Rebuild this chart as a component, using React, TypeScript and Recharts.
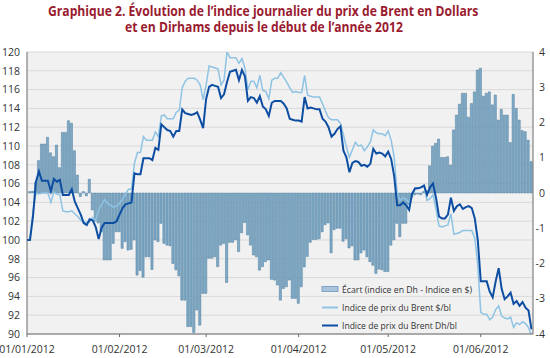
import React, { useLayoutEffect, useRef, useState } from 'react';
import { ComposedChart, Bar, Line, XAxis, YAxis, CartesianGrid } from 'recharts';

// one value per calendar day, day 0 = 01/01/2012
const brentDh = [
  100.0, 100.0, 102.5, 106.2, 107.3, 106.3, 106.3, 106.3, 105.2, 106.5,
  106.2, 106.4, 104.8, 104.8, 104.8, 105.4, 104.1, 103.4, 102.7, 101.8,
  101.6, 102.2, 102.1, 101.4, 100.1, 101.3, 101.8, 101.8, 101.8, 101.8,
  102.0, 102.7, 103.4, 103.8, 103.9, 104.0, 107.1, 107.0, 107.0, 108.7,
  108.7, 108.7, 108.5, 109.8, 109.6, 112.3, 112.0, 111.7, 111.6, 111.0,
  111.6, 111.6, 113.9, 113.5, 113.4, 113.3, 113.4, 113.6, 112.8, 111.9,
  115.0, 116.3, 116.5, 116.4, 116.3, 115.1, 115.5, 116.8, 117.9, 118.0,
  118.1, 117.0, 118.1, 117.4, 114.8, 115.2, 115.1, 114.6, 115.3, 114.2,
  113.9, 113.2, 114.6, 114.8, 114.8, 114.8, 114.5, 114.0, 112.9, 112.8,
  112.7, 112.7, 112.6, 115.2, 114.0, 114.1, 114.0, 113.9, 113.9, 112.9,
  112.6, 112.0, 111.0, 111.3, 111.8, 112.1, 109.5, 108.8, 107.2, 108.2,
  108.4, 108.3, 107.9, 108.0, 107.8, 108.1, 109.7, 109.2, 109.3, 109.2,
  108.9, 109.4, 108.6, 106.8, 103.7, 103.7, 104.0, 103.7, 103.2, 104.9,
  105.5, 105.5, 105.6, 105.8, 104.8, 105.6, 106.0, 104.5, 102.5, 102.3,
  102.3, 102.7, 104.5, 103.1, 103.6, 103.8, 103.3, 103.5, 103.6, 103.4,
  102.3, 100.0, 95.6, 95.6, 95.6, 94.5, 93.9, 95.6, 97.0, 94.8,
  93.7, 94.0, 94.4, 93.2, 93.5, 93.0, 93.4, 92.8, 92.5, 90.5,
];

const brentUsd = [
  100.0, 100.0, 103.0, 105.0, 104.9, 105.0, 105.0, 105.0, 104.0, 105.1,
  104.9, 104.8, 103.1, 103.0, 103.0, 103.1, 102.8, 102.5, 102.1, 101.9,
  101.9, 101.9, 102.4, 102.1, 103.2, 103.8, 104.3, 103.9, 103.7, 103.5,
  103.6, 103.9, 104.3, 104.9, 105.4, 105.4, 108.2, 109.3, 109.3, 111.0,
  110.6, 110.6, 110.6, 111.5, 111.0, 113.2, 113.3, 112.9, 112.9, 112.9,
  113.6, 113.8, 116.2, 116.9, 117.2, 117.2, 117.2, 117.0, 116.5, 114.9,
  116.5, 118.5, 118.4, 118.3, 118.2, 116.5, 117.0, 120.0, 119.4, 119.4,
  119.4, 118.8, 119.3, 118.3, 116.0, 116.9, 116.9, 116.2, 117.5, 115.9,
  115.8, 115.0, 117.0, 117.2, 117.2, 117.8, 117.3, 116.8, 116.2, 115.7,
  115.8, 115.7, 115.7, 117.5, 115.4, 115.3, 115.2, 115.2, 115.2, 114.5,
  113.7, 113.0, 112.8, 112.8, 112.8, 112.4, 111.2, 109.9, 108.8, 109.6,
  110.4, 110.0, 110.1, 109.5, 109.9, 110.4, 111.7, 111.4, 111.3, 111.3,
  111.1, 111.6, 110.6, 108.8, 105.0, 104.2, 104.5, 104.3, 104.0, 104.8,
  105.4, 105.5, 105.6, 105.8, 104.2, 104.4, 104.8, 103.3, 101.5, 101.4,
  101.5, 101.6, 102.8, 100.6, 100.7, 100.8, 101.0, 101.0, 101.0, 101.0,
  100.2, 97.3, 92.3, 92.1, 92.1, 91.5, 91.8, 92.6, 93.0, 91.9,
  91.7, 91.6, 91.8, 90.7, 91.2, 91.0, 91.3, 91.1, 90.7, 89.8,
];

const ecart = [
  0.0, 0.04, 0.05, 0.3, 0.92, 1.39, 1.39, 1.58, 1.14, 1.03,
  1.36, 0.72, 1.72, 1.72, 2.05, 1.98, 1.2, 0.51, -0.1, 0.04,
  -0.08, 0.39, -0.48, -0.8, -0.85, -1.1, -1.9, -1.9, -1.9, -1.43,
  -1.1, -1.1, -1.57, -1.38, -1.62, -1.6, -1.33, -2.33, -2.2, -2.39,
  -1.81, -1.81, -2.17, -1.33, -1.38, -0.86, -1.43, -1.48, -1.5, -2.0,
  -2.18, -2.35, -3.04, -3.04, -3.79, -3.79, -3.96, -3.32, -3.75, -2.85,
  -2.85, -1.85, -1.85, -1.81, -2.09, -1.48, -1.43, -2.54, -1.4, -1.4,
  -1.33, -1.66, -1.13, -0.84, -1.19, -1.48, -1.76, -1.81, -2.19, -2.09,
  -1.95, -1.9, -2.45, -2.47, -2.61, -3.04, -2.71, -2.66, -2.47, -2.99,
  -2.99, -3.13, -2.66, -2.1, -1.8, -1.4, -1.32, -1.32, -1.3, -1.1,
  -0.9, -0.85, -1.7, -1.04, -1.0, -1.0, -1.37, -1.3, -1.56, -1.5,
  -1.9, -1.9, -1.7, -1.62, -1.81, -1.95, -2.05, -2.28, -2.16, -2.18,
  -2.23, -2.23, -1.48, -1.33, -0.86, -1.24, -0.86, -0.86, -0.33, -0.12,
  -0.05, -0.03, -0.05, 0.04, 0.06, 0.77, 1.33, 1.41, 1.53, 1.01,
  1.01, 1.03, 0.79, 1.79, 2.21, 2.52, 2.83, 2.83, 2.15, 2.54,
  2.87, 3.49, 3.54, 2.75, 2.83, 2.87, 2.5, 2.78, 2.07, 2.37,
  2.21, 2.21, 1.43, 2.8, 2.4, 2.07, 1.77, 1.74, 1.5, 0.89,
];

const monthDays = [0, 31, 60, 91, 121, 152];
const monthLabels = ['01/01/2012', '01/02/2012', '01/03/2012', '01/04/2012', '01/05/2012', '01/06/2012'];
const leftTicks = [90, 92, 94, 96, 98, 100, 102, 104, 106, 108, 110, 112, 114, 116, 118, 120];
const rightTicks = [-4, -3, -2, -1, 0, 1, 2, 3, 4];

const chartData = brentDh.map((dh, i) => ({ day: i, dh, usd: brentUsd[i], ecart: ecart[i] }));

const FONT = '"Open Sans", "DejaVu Sans", sans-serif';
const tickStyle = { fontSize: 10.5, fontFamily: FONT, fill: '#333' };

const RightTick = ({ x, y, payload }: any) => (
  <text x={x + 12} y={y} dy="0.355em" textAnchor="end" fontSize={10.5} fontFamily={FONT} fill="#333">
    {payload.value}
  </text>
);

// title line squeezed horizontally to the width of the original (narrow) font
const TitleLine = ({ text, width }: { text: string; width: number }) => {
  const ref = useRef<HTMLSpanElement>(null);
  const [scale, setScale] = useState(1);
  useLayoutEffect(() => {
    if (ref.current) setScale(width / ref.current.offsetWidth);
  }, [width]);
  return (
    <div style={{ height: 16.3, lineHeight: '16.3px', display: 'flex', justifyContent: 'center' }}>
      <span
        ref={ref}
        style={{ display: 'inline-block', whiteSpace: 'nowrap', transform: `scaleX(${scale})` }}
      >
        {text}
      </span>
    </div>
  );
};

const App = () => {
  return (
    <div style={{ position: 'relative', width: 550, height: 358, background: '#fff' }}>
      <style>{'body{margin:0}'}</style>
      <ComposedChart
        width={550}
        height={358}
        data={chartData}
        margin={{ top: 52, right: 0, bottom: 0, left: 0 }}
      >
        <CartesianGrid vertical={false} stroke="#d9d9d9" fill="#f1f1f1" />
        <XAxis
          dataKey="day"
          type="number"
          domain={[0, 169.5]}
          ticks={monthDays}
          interval={0}
          tickFormatter={(d: number) => monthLabels[monthDays.indexOf(d)]}
          height={24}
          tickSize={3}
          tickMargin={9}
          tick={tickStyle}
          axisLine={{ stroke: '#6b6b6b' }}
          tickLine={{ stroke: '#6b6b6b' }}
        />
        <YAxis
          domain={[90, 120]}
          ticks={leftTicks}
          interval={0}
          allowDataOverflow
          width={27}
          tickSize={4}
          tickMargin={3}
          tickLine={false}
          tick={tickStyle}
          axisLine={{ stroke: '#6b6b6b' }}
        />
        <YAxis
          yAxisId="r"
          orientation="right"
          domain={[-4, 4]}
          ticks={rightTicks}
          interval={0}
          width={17}
          tickSize={0}
          tickMargin={0}
          tickLine={false}
          tick={<RightTick />}
          axisLine={{ stroke: '#6b6b6b' }}
        />
        <Bar
          yAxisId="r"
          dataKey="ecart"
          barSize={2.2}
          fill="#7ea9c6"
          stroke="#4f7f9f"
          strokeWidth={0.5}
          isAnimationActive={false}
        />
        <Line
          dataKey="usd"
          stroke="#8ec3e4"
          strokeWidth={1.5}
          dot={false}
          isAnimationActive={false}
        />
        <Line
          dataKey="dh"
          stroke="#0d4ea3"
          strokeWidth={2}
          dot={false}
          isAnimationActive={false}
        />
      </ComposedChart>

      <div
        style={{
          position: 'absolute',
          left: 0,
          top: 3,
          width: 527,
          color: '#9a1b2f',
          fontFamily: FONT,
          fontWeight: 700,
          fontSize: 14.5,
        }}
      >
        <TitleLine text="Graphique 2. Évolution de l’indice journalier du prix de Brent en Dollars" width={430} />
        <TitleLine text="et en Dirhams depuis le début de l’année 2012" width={278} />
      </div>

      <svg width={550} height={358} style={{ position: 'absolute', left: 0, top: 0, pointerEvents: 'none' }}>
        <g fontFamily={FONT} fontSize={9.5} fill="#333">
          <rect x={322} y={286.5} width={16} height={5} fill="#a9c4dc" stroke="#7fa3c4" strokeWidth={1} />
          <text x={342} y={292.5} textLength={130} lengthAdjust="spacingAndGlyphs">
            Écart (indice en Dh - Indice en $)
          </text>
          <line x1={322} x2={338} y1={307.5} y2={307.5} stroke="#8ec3e4" strokeWidth={2} />
          <text x={342} y={311} textLength={109} lengthAdjust="spacingAndGlyphs">
            Indice de prix du Brent $/bl
          </text>
          <line x1={322} x2={338} y1={325.5} y2={325.5} stroke="#0d4ea3" strokeWidth={2} />
          <text x={342} y={329} textLength={115} lengthAdjust="spacingAndGlyphs">
            Indice de prix du Brent Dh/bl
          </text>
        </g>
      </svg>
    </div>
  );
};

export default App;
